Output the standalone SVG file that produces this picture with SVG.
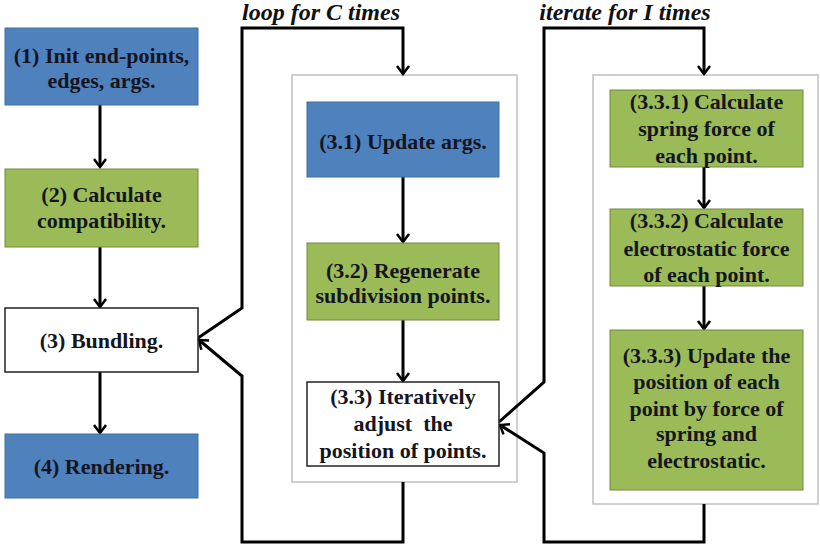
<svg xmlns="http://www.w3.org/2000/svg" width="820" height="548" viewBox="0 0 820 548" font-family="Liberation Serif, Times New Roman, serif">
<style>
.t{font-family:Liberation Serif, Times New Roman, serif;font-weight:bold;font-size:22px;fill:#15151f;text-anchor:middle}
.lbl{font-family:Liberation Serif, Times New Roman, serif;font-style:italic;font-weight:bold;font-size:24px;fill:#111;text-anchor:middle}
.blue{fill:#4f81bd;stroke:#41719c;stroke-width:1}
.green{fill:#9bbb59;stroke:#71893f;stroke-width:1}
.white{fill:#fff;stroke:#222;stroke-width:1.5}
.cont{fill:#fff;stroke:#c0c0c0;stroke-width:1.5}
.c{fill:none;stroke:#000;stroke-width:3;stroke-linejoin:miter}
</style>
<defs>
<marker id="arr" markerUnits="userSpaceOnUse" markerWidth="14" markerHeight="16" viewBox="-12 -8 14 16" refX="0" refY="0" orient="auto">
<path d="M-8,-6 L0,0 L-8,6" fill="none" stroke="#000" stroke-width="2.5"/>
</marker>
</defs>
<rect width="820" height="548" fill="#fff"/>
<g id="containers">
<rect id="container-c" class="cont" x="292" y="75" width="225" height="407"/>
<rect id="container-i" class="cont" x="593" y="75" width="225" height="429"/>
</g>
<g id="labels">
<text class="lbl" x="321" y="20">loop for C times</text>
<text class="lbl" x="625" y="20">iterate for I times</text>
</g>
<g id="connectors">
<path class="c" d="M100,105 V167" marker-end="url(#arr)"/>
<path class="c" d="M100,247 V307" marker-end="url(#arr)"/>
<path class="c" d="M100,372 V433" marker-end="url(#arr)"/>
<path class="c" d="M198,338 L242,308 V28 H403 V74" marker-end="url(#arr)"/>
<path class="c" d="M403,482 V542 H242 V376 L199,340" marker-end="url(#arr)"/>
<path class="c" d="M403,177 V242" marker-end="url(#arr)"/>
<path class="c" d="M403,320 V381" marker-end="url(#arr)"/>
<path class="c" d="M499,422 L544,382 V28 H704 V74" marker-end="url(#arr)"/>
<path class="c" d="M704,504 V542 H544 V453 L500,425" marker-end="url(#arr)"/>
<path class="c" d="M704,167 V208" marker-end="url(#arr)"/>
<path class="c" d="M704,286 V329" marker-end="url(#arr)"/>
</g>
<g id="n1">
<rect class="blue" x="5" y="28" width="193" height="77"/>
<text class="t" x="101.5" y="63">(1) Init end-points,</text>
<text class="t" x="101.5" y="88">edges, args.</text>
</g>
<g id="n2">
<rect class="green" x="5" y="169" width="193" height="78"/>
<text class="t" x="101.5" y="202">(2) Calculate</text>
<text class="t" x="101.5" y="228">compatibility.</text>
</g>
<g id="n3">
<rect class="white" x="5" y="308" width="193" height="64"/>
<text class="t" x="101.5" y="348">(3) Bundling.</text>
</g>
<g id="n4">
<rect class="blue" x="5" y="434" width="193" height="64"/>
<text class="t" x="101.5" y="474">(4) Rendering.</text>
</g>
<g id="n31">
<rect class="blue" x="307" y="102" width="192" height="75"/>
<text class="t" x="403" y="149">(3.1) Update args.</text>
</g>
<g id="n32">
<rect class="green" x="307" y="243" width="192" height="77"/>
<text class="t" x="403" y="278">(3.2) Regenerate</text>
<text class="t" x="403" y="303">subdivision points.</text>
</g>
<g id="n33">
<rect class="white" x="307" y="382" width="192" height="84"/>
<text class="t" x="403" y="404">(3.3) Iteratively</text>
<text class="t" x="403" y="431" xml:space="preserve">adjust  the</text>
<text class="t" x="403" y="458">position of points.</text>
</g>
<g id="n331">
<rect class="green" x="610" y="90" width="193" height="77"/>
<text class="t" x="706.5" y="109">(3.3.1) Calculate</text>
<text class="t" x="706.5" y="136">spring force of</text>
<text class="t" x="706.5" y="163">each point.</text>
</g>
<g id="n332">
<rect class="green" x="610" y="209" width="193" height="77"/>
<text class="t" x="706.5" y="228">(3.3.2) Calculate</text>
<text class="t" x="706.5" y="256">electrostatic force</text>
<text class="t" x="706.5" y="282">of each point.</text>
</g>
<g id="n333">
<rect class="green" x="610" y="330" width="193" height="160"/>
<text class="t" x="706.5" y="363">(3.3.3) Update the</text>
<text class="t" x="706.5" y="389">position of each</text>
<text class="t" x="706.5" y="416">point by force of</text>
<text class="t" x="706.5" y="441">spring and</text>
<text class="t" x="706.5" y="468">electrostatic.</text>
</g>
</svg>
